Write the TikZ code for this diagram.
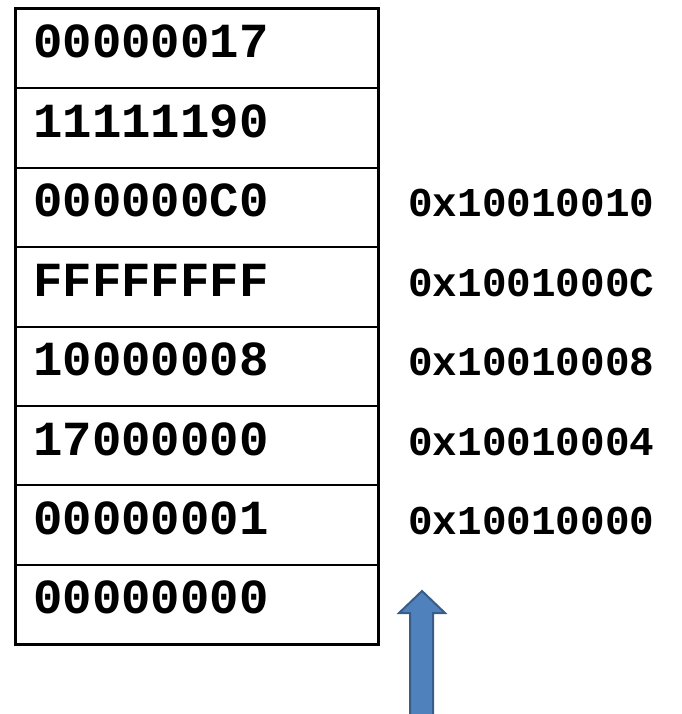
\documentclass[tikz,border=0pt]{standalone}
\usepackage{fontspec}
\setmonofont{Liberation Mono}
\usepackage{tikz}
\definecolor{arrowfill}{HTML}{4F81BD}
\definecolor{arrowline}{HTML}{385D8A}
\tikzset{
  cell/.style={draw=black, line width=2pt, minimum width=363pt, minimum height=79.4pt, inner sep=0pt, outer sep=0pt},
  val/.style={anchor=base west, inner sep=0pt, font=\ttfamily\bfseries\fontsize{49}{49}\selectfont},
  addr/.style={anchor=base west, inner sep=0pt, font=\ttfamily\bfseries\fontsize{41}{41}\selectfont}
}
\begin{document}
\begin{tikzpicture}[x=1pt,y=-1pt]
\useasboundingbox (0,0) rectangle (681,714);

% memory words, top to bottom
\foreach \v [count=\i] in {00000017,11111190,000000C0,FFFFFFFF,10000008,17000000,00000001,00000000} {
  \node[cell] (c\i) at (196.5,{9+79.4*(\i-0.5)}) {};
  \node[val] (v\i) at (33,{9+79.4*\i-30.4}) {\v};
}
\draw[line width=3pt] (c1.north west) rectangle (c8.south east);

% addresses
\foreach \a [count=\i from 3] in {0x10010010,0x1001000C,0x10010008,0x10010004,0x10010000} {
  \node[addr] (a\i) at (408,{9+79.4*\i-30.4}) {\a};
}

% block arrow
\coordinate (T) at (422,591);
\draw[arrowline, fill=arrowfill, line width=2pt, line join=miter]
  (T) -- (445,613) -- (433,613) -- (433,716) -- (410,716) -- (410,613) -- (399,613) -- cycle;
\end{tikzpicture}
\end{document}
